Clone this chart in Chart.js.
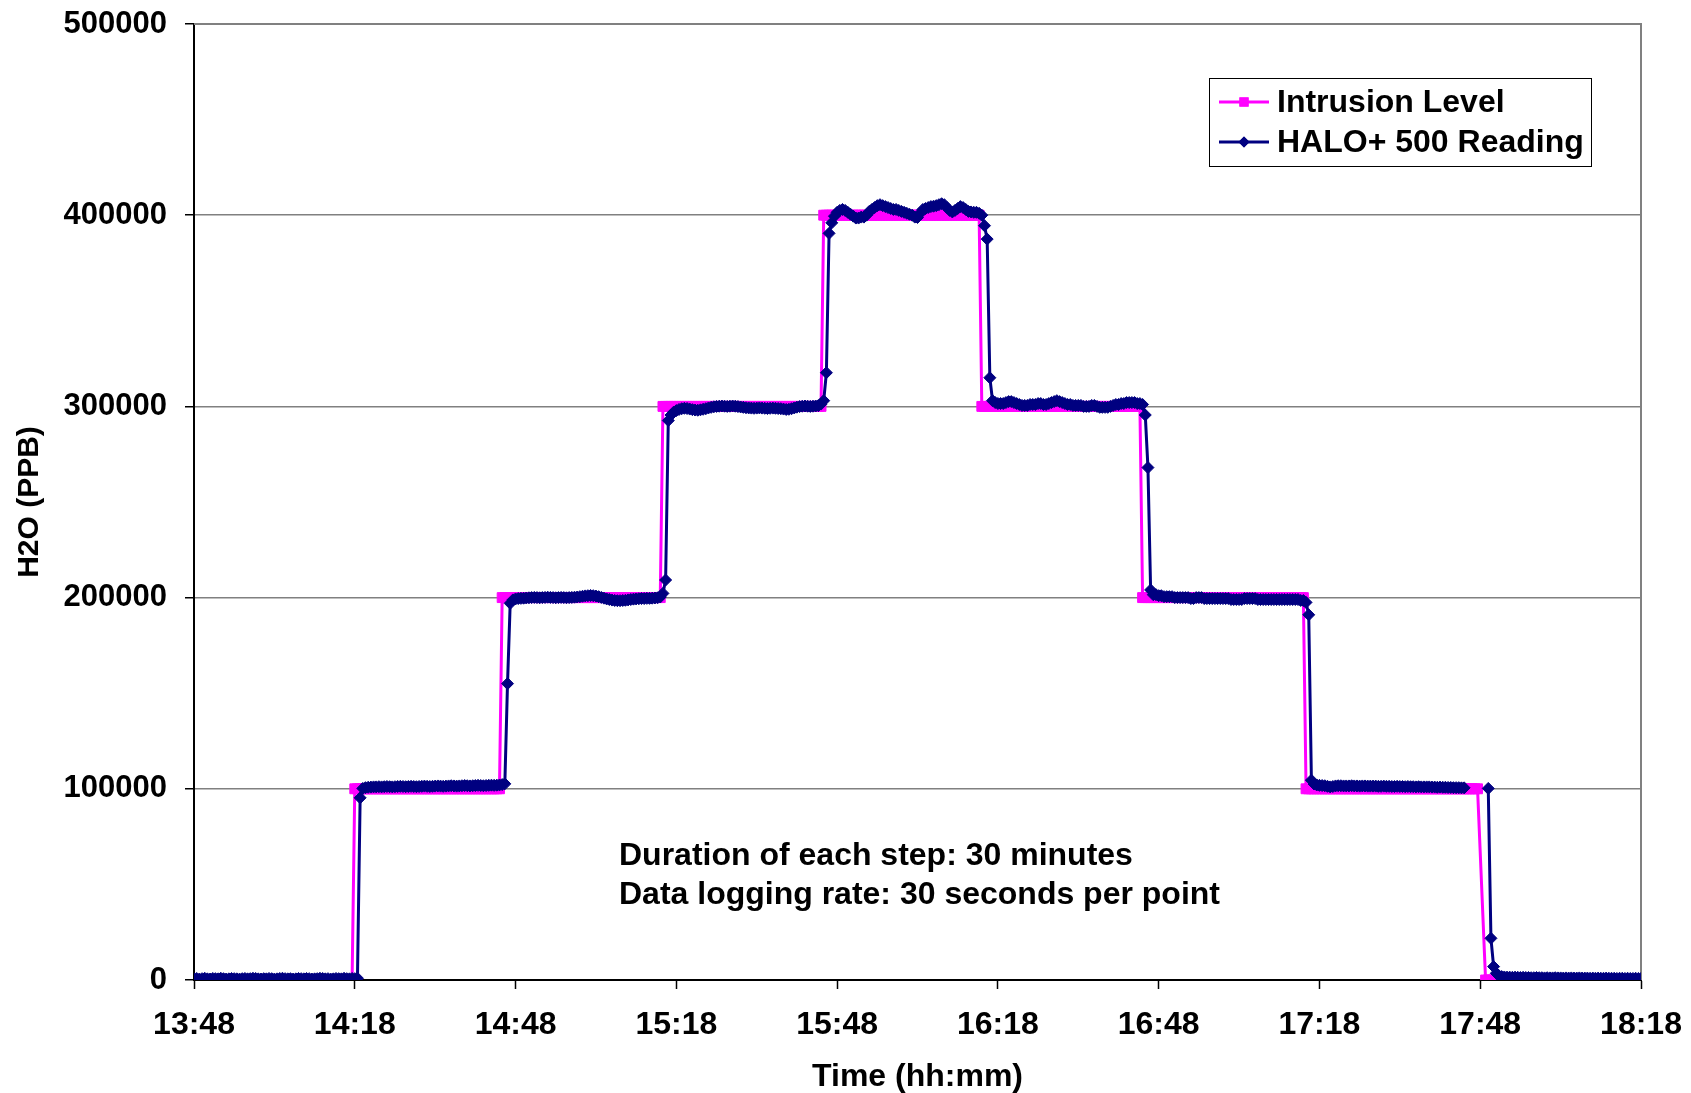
<!DOCTYPE html>
<html>
<head>
<meta charset="utf-8">
<script src="https://cdn.jsdelivr.net/npm/chart.js@4/dist/chart.umd.min.js"></script>
<style>
html, body { margin: 0; padding: 0; background: #fff; }
#wrap { width: 1691px; height: 1093px; }
</style>
</head>
<body>
<div id="wrap"><canvas id="myChart" width="1691" height="1093"></canvas></div>
<script>
// time axis: minutes after the start time, one reading every 30 seconds
let startTime = "13:48";
let logStepMin = 0.5;
let xTickStepMin = 30;
let xMaxMin = 270;
let yTicks = [0, 100000, 200000, 300000, 400000, 500000];

// values in thousands of PPB, one line = 10 minutes (20 readings)
let intrusionK = [
    0,0,0,0,0, 0,0,0,0,0, 0,0,0,0,0, 0,0,0,0,0,
    0,0,0,0,0, 0,0,0,0,0, 0,0,0,0,0, 0,0,0,0,0,
    0,0,0,0,0, 0,0,0,0,0, 0,0,0,0,0, 0,0,0,0,0,
    100,100,100,100,100, 100,100,100,100,100, 100,100,100,100,100, 100,100,100,100,100,
    100,100,100,100,100, 100,100,100,100,100, 100,100,100,100,100, 100,100,100,100,100,
    100,100,100,100,100, 100,100,100,100,100, 100,100,100,100,100, 200,200,200,200,200,
    200,200,200,200,200, 200,200,200,200,200, 200,200,200,200,200, 200,200,200,200,200,
    200,200,200,200,200, 200,200,200,200,200, 200,200,200,200,200, 200,200,200,200,200,
    200,200,200,200,200, 200,200,200,200,200, 200,200,200,200,200, 300,300,300,300,300,
    300,300,300,300,300, 300,300,300,300,300, 300,300,300,300,300, 300,300,300,300,300,
    300,300,300,300,300, 300,300,300,300,300, 300,300,300,300,300, 300,300,300,300,300,
    300,300,300,300,300, 300,300,300,300,300, 300,300,300,300,300, 400,400,400,400,400,
    400,400,400,400,400, 400,400,400,400,400, 400,400,400,400,400, 400,400,400,400,400,
    400,400,400,400,400, 400,400,400,400,400, 400,400,400,400,400, 400,400,400,400,400,
    400,400,400,400,400, 400,400,400,400,400, 400,400,400,400,300, 300,300,300,300,300,
    300,300,300,300,300, 300,300,300,300,300, 300,300,300,300,300, 300,300,300,300,300,
    300,300,300,300,300, 300,300,300,300,300, 300,300,300,300,300, 300,300,300,300,300,
    300,300,300,300,300, 300,300,300,300,300, 300,300,300,300,200, 200,200,200,200,200,
    200,200,200,200,200, 200,200,200,200,200, 200,200,200,200,200, 200,200,200,200,200,
    200,200,200,200,200, 200,200,200,200,200, 200,200,200,200,200, 200,200,200,200,200,
    200,200,200,200,200, 200,200,200,200,200, 200,200,200,200,200, 100,100,100,100,100,
    100,100,100,100,100, 100,100,100,100,100, 100,100,100,100,100, 100,100,100,100,100,
    100,100,100,100,100, 100,100,100,100,100, 100,100,100,100,100, 100,100,100,100,100,
    100,100,100,100,100, 100,100,100,100,100, 100,100,100,100,100, 100,100,100,100,100,
    null,null,0,0,0, 0,0,0,0,0, 0,0,0,0,0, 0,0,0,0,0,
    0,0,0,0,0, 0,0,0,0,0, 0,0,0,0,0, 0,0,0,0,0,
    0,0,0,0,0, 0,0,0,0,0, 0,0,0,0,0, 0,0,0,0,0,
    0
];

let haloK = [
    0.6,0.8,0.5,0.7,0.9, 0.6,0.5,0.8,0.7,0.6, 0.9,0.7,0.5,0.6,0.8, 0.7,0.6,0.5,0.7,0.8,
    0.6,0.7,0.9,0.8,0.6, 0.5,0.7,0.6,0.8,0.7, 0.5,0.6,0.8,0.9,0.7, 0.6,0.7,0.5,0.6,0.8,
    0.7,0.6,0.8,0.7,0.5, 0.6,0.7,0.9,0.8,0.6, 0.7,0.5,0.6,0.8,0.7, 0.6,0.9,0.7,0.6,0.8,
    0.7,0.9,95.3,100.2,100.6, 100.8,100.9,101.0,101.0,101.1, 101.0,101.1,101.2,101.1,101.0, 101.1,101.2,101.3,101.2,101.1,
    101.2,101.3,101.2,101.1,101.2, 101.3,101.4,101.3,101.2,101.3, 101.4,101.5,101.4,101.3,101.4, 101.5,101.6,101.5,101.4,101.5,
    101.6,101.7,101.6,101.5,101.6, 101.7,101.8,101.7,101.6,101.7, 101.8,101.9,101.8,101.9,102.0, 102.2,102.6,155.0,197.0,198.8,
    199.3,199.5,199.6,199.7,199.8, 199.9,200.0,200.1,200.0,199.9, 200.0,200.1,200.2,200.1,200.0, 199.9,200.0,200.1,200.0,199.9,
    200.0,200.1,200.2,200.3,200.5, 200.7,200.9,201.0,201.1,201.0, 200.8,200.5,200.1,199.7,199.3, 199.0,198.7,198.5,198.4,198.4,
    198.5,198.6,198.8,199.0,199.2, 199.3,199.4,199.5,199.5,199.6, 199.6,199.7,199.8,199.9,200.3, 202.2,209.2,292.6,295.5,297.0,
    297.8,298.4,298.8,299.0,298.9, 298.6,298.3,298.1,298.0,298.2, 298.5,298.8,299.2,299.5,299.8, 300.0,300.1,300.2,300.1,300.0,
    300.1,300.2,300.1,299.9,299.7, 299.5,299.3,299.2,299.1,299.0, 299.1,299.2,299.1,299.0,298.9, 299.0,299.1,299.0,298.9,298.8,
    298.6,298.4,298.5,298.8,299.2, 299.6,299.9,300.1,300.2,300.1, 300.0,300.1,300.2,300.4,301.2, 303.0,317.6,390.5,396.0,399.5,
    401.5,402.5,403.0,402.5,401.5, 400.5,399.5,398.5,398.5,399.0, 399.0,400.0,402.0,403.0,404.0, 405.0,405.5,405.0,404.5,404.0,
    403.5,403.0,403.0,402.5,402.0, 401.5,401.0,400.5,400.0,399.0, 398.8,401.0,403.0,403.5,404.0, 404.5,404.7,405.0,405.5,406.0,
    405.5,404.0,402.5,401.7,402.5, 403.5,404.5,404.0,403.0,402.0, 401.7,401.5,401.5,401.0,400.0, 394.5,387.5,315.0,303.0,302.0,
    301.5,301.5,301.5,302.0,302.5, 302.5,302.0,301.5,301.0,300.5, 300.5,300.5,301.0,301.0,301.0, 301.5,301.5,301.0,301.0,301.5,
    302.0,302.5,303.0,302.5,302.0, 301.5,301.0,301.0,300.5,300.5, 300.5,300.5,300.0,300.0,300.0, 300.5,300.5,300.0,299.5,299.5,
    299.5,299.5,300.0,300.5,301.0, 301.0,301.5,301.5,302.0,302.0, 302.0,302.0,301.5,301.5,301.0, 295.5,268.0,204.0,201.5,201.5,
    201.0,201.0,200.5,200.5,200.5, 200.5,200.0,200.0,200.0,200.0, 200.0,200.0,199.5,199.5,200.0, 200.0,200.0,199.5,199.5,199.5,
    199.5,199.5,199.5,199.5,199.5, 199.5,199.5,199.0,199.0,199.0, 199.0,199.0,199.5,199.5,199.5, 199.5,199.5,199.0,199.0,199.0,
    199.0,199.0,199.0,199.0,199.0, 199.0,199.0,199.0,199.0,199.0, 199.0,199.0,199.0,198.5,198.5, 197.5,191.0,104.5,102.5,102.0,
    101.8,101.7,101.6,101.3,101.0, 101.2,101.5,101.6,101.6,101.5, 101.5,101.5,101.6,101.5,101.5, 101.4,101.5,101.5,101.4,101.4,
    101.4,101.4,101.3,101.3,101.4, 101.3,101.3,101.2,101.2,101.3, 101.2,101.2,101.1,101.2,101.1, 101.1,101.0,101.1,101.0,101.0,
    101.0,101.0,100.9,100.9,100.8, 100.9,100.8,100.8,100.7,100.7, 100.6,100.6,100.6,100.5,100.5, null,null,null,null,null,
    null,null,null,100.2,21.8, 7.0,3.5,2.2,1.8,1.6, 1.5,1.5,1.4,1.5,1.4, 1.3,1.4,1.3,1.3,1.2,
    1.2,1.3,1.2,1.2,1.1, 1.2,1.1,1.1,1.2,1.1, 1.1,1.0,1.1,1.0,1.1, 1.0,1.0,1.1,1.0,1.0,
    1.0,0.9,1.0,0.9,1.0, 0.9,0.9,1.0,0.9,0.9, 0.9,0.8,0.9,0.9,0.8, 0.9,0.8,0.8,0.9,0.8,
    0.8
];

let seriesLabels = ["Intrusion Level", "HALO+ 500 Reading"];
let notes = ["Duration of each step: 30 minutes", "Data logging rate: 30 seconds per point"];

let fontFam = "'Liberation Sans', Arial, Helvetica, sans-serif";
let magenta = "#FF00FF";
let navy = "#000080";

// x,y points (x = minutes since start, y = PPB)
function toPoints(arr) {
    let pts = [];
    for (let i = 0; i < arr.length; i++) {
        pts.push({ x: i * logStepMin, y: arr[i] === null ? null : arr[i] * 1000 });
    }
    return pts;
}

function minToClock(v) {
    let p = startTime.split(":");
    let m = parseInt(p[0]) * 60 + parseInt(p[1]) + v;
    let mm = m % 60;
    return Math.floor(m / 60) + ":" + (mm < 10 ? "0" + mm : mm);
}

// plot border, legend box and the two notes
const extras = {
    id: "extras",
    beforeDatasetsDraw(chart) {
        const ctx = chart.ctx, a = chart.chartArea;
        ctx.save();
        ctx.strokeStyle = "#808080";
        ctx.lineWidth = 2;
        ctx.beginPath();
        ctx.moveTo(a.left, a.top);
        ctx.lineTo(a.right, a.top);
        ctx.lineTo(a.right, a.bottom);
        ctx.stroke();
        ctx.restore();
    },
    afterDraw(chart) {
        const ctx = chart.ctx, a = chart.chartArea;
        ctx.save();
        // legend
        let lx = a.right - 432, ly = a.top + 54, lw = 382, lh = 88;
        ctx.fillStyle = "#fff";
        ctx.fillRect(lx, ly, lw, lh);
        ctx.strokeStyle = "#000";
        ctx.lineWidth = 1;
        ctx.strokeRect(lx + 0.5, ly + 0.5, lw, lh);
        [0, 1].forEach(function (k, r) {
            let ds = chart.data.datasets[k];
            let cy = ly + 24 + r * 40;
            ctx.strokeStyle = ds.borderColor;
            ctx.lineWidth = 3;
            ctx.beginPath();
            ctx.moveTo(lx + 10, cy);
            ctx.lineTo(lx + 60, cy);
            ctx.stroke();
            ctx.fillStyle = ds.pointBackgroundColor;
            Chart.helpers.drawPoint(ctx, {
                pointStyle: ds.pointStyle,
                radius: ds.pointRadius - 0.5,
                borderWidth: 0,
                rotation: 0
            }, lx + 35, cy);
            ctx.fill();
            ctx.fillStyle = "#000";
            ctx.font = "bold 32px " + fontFam;
            ctx.textAlign = "left";
            ctx.textBaseline = "middle";
            ctx.fillText(ds.label, lx + 68, cy + 1);
        });
        // notes
        ctx.fillStyle = "#000";
        ctx.font = "bold 32px " + fontFam;
        ctx.textAlign = "left";
        ctx.textBaseline = "middle";
        notes.forEach(function (t, r) {
            ctx.fillText(t, a.left + 425, a.top + 832 + r * 39);
        });
        ctx.restore();
    }
};

let ChartInst = new Chart(document.getElementById("myChart").getContext("2d"), {
    type: "line",
    data: {
        datasets: [
            {
                label: seriesLabels[0],
                data: toPoints(intrusionK),
                order: 2,
                borderColor: magenta,
                backgroundColor: magenta,
                pointBackgroundColor: magenta,
                pointBorderColor: magenta,
                borderWidth: 3,
                pointStyle: "rect",
                pointRadius: 7,
                pointBorderWidth: 1,
                spanGaps: true,
                tension: 0
            },
            {
                label: seriesLabels[1],
                data: toPoints(haloK),
                order: 1,
                borderColor: navy,
                backgroundColor: navy,
                pointBackgroundColor: navy,
                pointBorderColor: navy,
                borderWidth: 3,
                pointStyle: "rectRot",
                pointRadius: 6,
                pointBorderWidth: 1,
                spanGaps: false,
                tension: 0
            }
        ]
    },
    options: {
        responsive: false,
        animation: false,
        devicePixelRatio: 1,
        layout: { padding: { left: 0, top: 24, right: 50, bottom: 0 } },
        plugins: {
            legend: { display: false },
            tooltip: { enabled: false }
        },
        scales: {
            x: {
                type: "linear",
                min: 0,
                max: xMaxMin,
                afterFit: function (s) {
                    s.height = 113;
                    s.paddingLeft = 0;
                    s.paddingRight = 0;
                },
                ticks: {
                    stepSize: xTickStepMin,
                    color: "#000",
                    padding: 17,
                    maxRotation: 0,
                    font: { family: fontFam, size: 32, weight: "bold" },
                    callback: function (v) { return minToClock(v); }
                },
                grid: { drawOnChartArea: false, tickLength: 9, tickColor: "#000", tickWidth: 1.5 },
                border: { color: "#000", width: 2 },
                title: {
                    display: true,
                    text: "Time (hh:mm)",
                    color: "#000",
                    font: { family: fontFam, size: 32, weight: "bold", lineHeight: 1.0 },
                    padding: { top: 0, bottom: 0 }
                }
            },
            y: {
                min: 0,
                max: 500000,
                afterFit: function (s) {
                    s.width = 194;
                    s.paddingTop = 0;
                    s.paddingBottom = 0;
                },
                afterBuildTicks: function (s) { s.ticks = yTicks.map(function (v) { return { value: v }; }); },
                ticks: {
                    color: "#000",
                    padding: 18,
                    font: { family: fontFam, size: 31, weight: "bold" },
                    callback: function (v) { return String(v); }
                },
                grid: { color: "#808080", lineWidth: 1.5, tickLength: 9, tickColor: "#000", tickWidth: 1.5 },
                border: { color: "#000", width: 2 },
                title: {
                    display: true,
                    text: "H2O (PPB)",
                    color: "#000",
                    font: { family: fontFam, size: 30, weight: "bold" },
                    padding: { top: 12, bottom: 0 }
                }
            }
        }
    },
    plugins: [extras]
});
</script>
</body>
</html>
